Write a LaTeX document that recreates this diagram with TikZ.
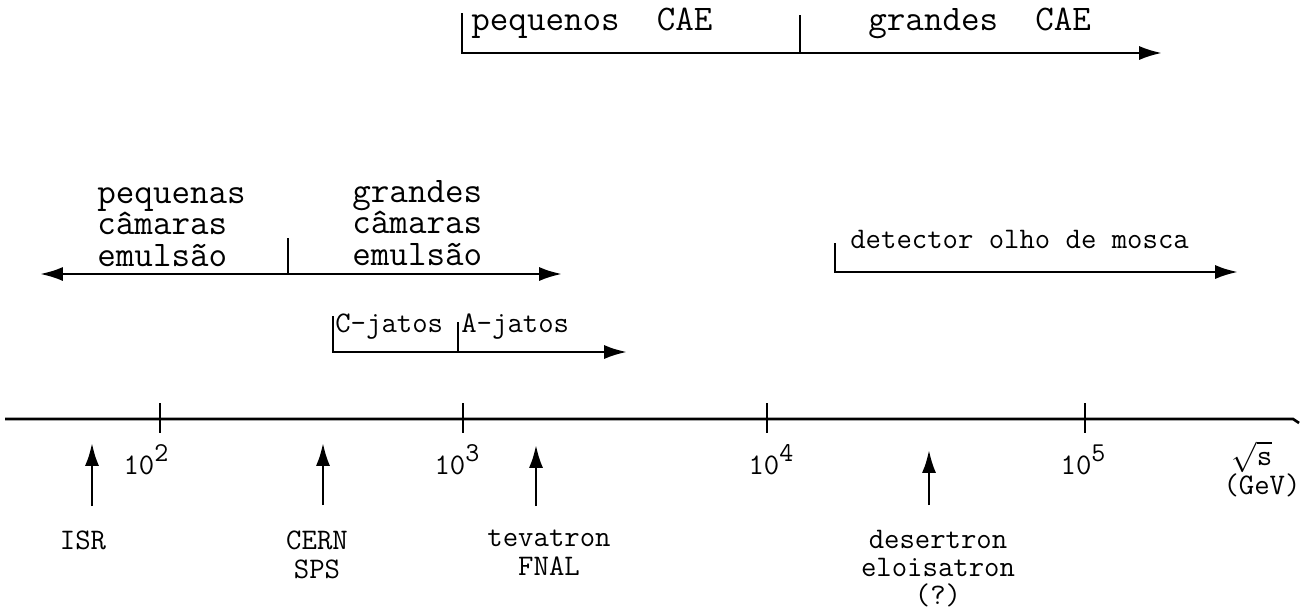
\documentclass[tikz,border=0pt]{standalone}
\usetikzlibrary{arrows.meta}
\newcommand{\pw}[1]{\raisebox{1.0ex}{\fontsize{15.5}{15.5}\selectfont #1}}

\begin{document}
\begin{tikzpicture}[x=0.02cm,y=-0.02cm,
  bar/.style={line width=1.5pt},
  fwd/.style={bar,-{Latex[length=13pt,width=8pt]}},
  bwd/.style={bar,{Latex[length=13pt,width=8pt]}-{Latex[length=13pt,width=8pt]}},
  big/.style={font=\ttfamily\fontsize{20.5}{18}\selectfont,inner sep=0pt},
  sml/.style={font=\ttfamily\fontsize{17}{16}\selectfont,inner sep=0pt}]
  \useasboundingbox (0,0) rectangle (1304,613);
  % ranges above the axis
  \draw[fwd] (462,13) -- (462,53) -- (1162,53); \draw[bar] (800,15) -- (800,53);
  \node[big,anchor=base west] (pqcae) at (471,30) {pequenos\ \ CAE};
  \node[big,anchor=base west] (grcae) at (868,30) {grandes\ \ CAE};
  \draw[bwd] (40,274) -- (562,274); \draw[bar] (288,238) -- (288,274);
  \node[big,anchor=north west,align=left] (pqcam) at (97,187) {pequenas\\câmaras\\emulsão};
  \node[big,anchor=north west,align=left] (grcam) at (352,180) {grandes\\câmaras\\emulsão};
  \draw[fwd] (333,316) -- (333,352) -- (627,352); \draw[bar] (458,322) -- (458,352);
  \node[sml,anchor=base west] (cjat) at (335,332) {C-jatos};
  \node[sml,anchor=base west] (ajat) at (461,332) {A-jatos};
  \draw[fwd] (835,243) -- (835,272) -- (1238,272);
  \node[sml,anchor=base west] (olho) at (850,248) {detector olho de mosca};
  % energy axis
  \coordinate (ax0) at (5,419); \coordinate (ax1) at (1293,419);
  \draw[bar] (ax0) -- (ax1) -- ++(6,4);
  \foreach \x in {160,463,767,1085} \draw[bar] (\x,403) -- (\x,433);
  \node[sml,anchor=base] (e2) at (146,474) {10\pw{2}};
  \node[sml,anchor=base] (e3) at (457,474) {10\pw{3}};
  \node[sml,anchor=base] (e4) at (771,474) {10\pw{4}};
  \node[sml,anchor=base] (e5) at (1083,474) {10\pw{5}};
  \node[sml,anchor=base] (rts) at (1252,465) {$\sqrt{\texttt{s}}$};
  \node[sml,anchor=base] (gev) at (1262,494) {(GeV)};
  % machines
  \node[sml,anchor=north,align=center] (isr) at (83,531) {ISR};
  \node[sml,anchor=north,align=center] (sps) at (317,531) {CERN\\SPS};
  \node[sml,anchor=north,align=center] (fnal) at (549,530) {tevatron\\FNAL};
  \node[sml,anchor=north,align=center] (dsrt) at (938,530) {desertron\\eloisatron\\(?)};
  \coordinate (pisr) at (92,443); \coordinate (psps) at (323,443);
  \coordinate (pfnal) at (536,445); \coordinate (pdsrt) at (929,450);
  \draw[fwd,shorten <=0.5cm] (isr.north -| pisr) -- (pisr);
  \draw[fwd,shorten <=0.52cm] (sps.north -| psps) -- (psps);
  \draw[fwd,shorten <=0.48cm] (fnal.north -| pfnal) -- (pfnal);
  \draw[fwd,shorten <=0.5cm] (dsrt.north -| pdsrt) -- (pdsrt);
\end{tikzpicture}
\end{document}
